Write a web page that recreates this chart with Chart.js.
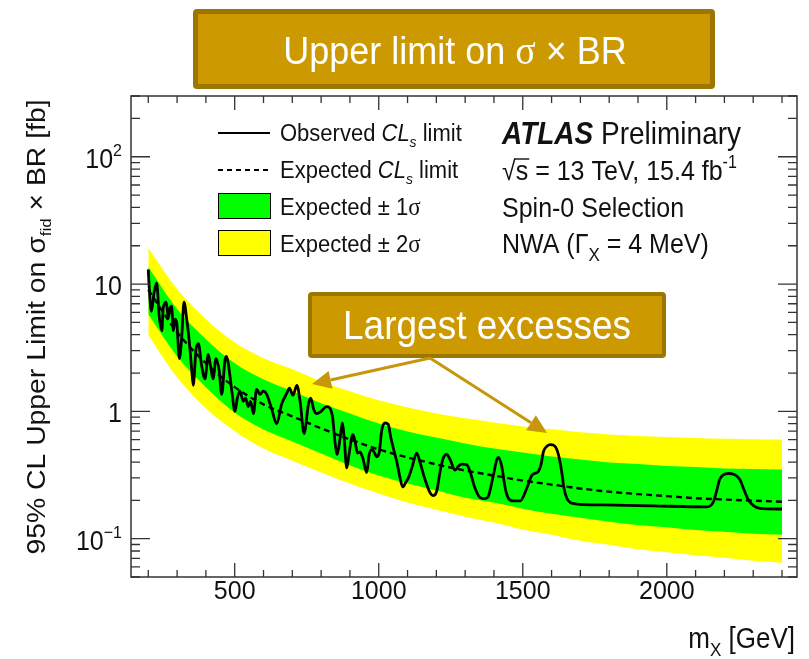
<!DOCTYPE html>
<html>
<head>
<meta charset="utf-8">
<title>Upper limit on σ × BR</title>
<script src="https://cdn.jsdelivr.net/npm/chart.js@4.4.1/dist/chart.umd.min.js"></script>
<style>
  html, body { margin: 0; padding: 0; background: #fff; }
  canvas { display: block; }
</style>
</head>
<body>
<canvas id="limitChart" width="809" height="659"></canvas>
<script>
// Observed CLs limit: m_X [GeV] and limit [fb]
const obsMass = [200, 203, 211, 220, 229, 238, 247, 252, 262, 270,
  275, 281, 287, 293, 299, 308, 316, 324, 333, 342,
  351, 356, 366, 374, 385, 397, 408, 417, 425, 435,
  446, 455, 466, 472, 481, 490, 501, 509, 518, 530,
  538, 547, 555, 565, 576, 588, 599, 611, 628, 646,
  663, 681, 690, 702, 716, 727, 741, 756, 764, 774,
  785, 800, 819, 829, 840, 848, 856, 866, 874, 880,
  889, 898, 910, 918, 926, 935, 946, 958, 967, 976,
  984, 993, 1002, 1010, 1022, 1033, 1042, 1051, 1063, 1074,
  1083, 1095, 1103, 1115, 1132, 1143, 1161, 1178, 1190, 1201,
  1213, 1224, 1236, 1248, 1265, 1276, 1288, 1306, 1317, 1334,
  1352, 1369, 1380, 1396, 1410, 1415, 1427, 1439, 1450, 1467,
  1491, 1514, 1531, 1543, 1554, 1563, 1572, 1583, 1597, 1612,
  1624, 1635, 1643, 1653, 1664, 1682, 1780, 1953, 2139, 2162,
  2174, 2183, 2196, 2214, 2237, 2254, 2268, 2283, 2301, 2324,
  2400];
const obsLimit = [13.0, 9.6, 6.1, 8.5, 10.2, 5.6, 4.3, 6.5, 7.2, 5.4,
  6.5, 6.7, 4.3, 5.3, 4.9, 2.6, 3.8, 7.2, 5.4, 3.6,
  2.1, 1.6, 3.1, 3.4, 2.3, 1.8, 2.8, 2.2, 1.8, 2.6,
  2.1, 1.36, 2.5, 2.7, 2.1, 1.44, 1.0, 1.27, 1.44, 1.2,
  1.27, 1.09, 1.2, 0.96, 1.49, 1.36, 1.44, 1.36, 1.05, 0.80,
  1.14, 1.39, 1.52, 1.34, 1.60, 1.20, 0.67, 1.14, 1.27, 1.04,
  0.96, 1.0, 1.09, 1.07, 0.89, 0.58, 0.46, 0.62, 0.81, 0.62,
  0.36, 0.48, 0.66, 0.58, 0.47, 0.48, 0.42, 0.33, 0.46, 0.50,
  0.48, 0.44, 0.48, 0.70, 0.81, 0.79, 0.62, 0.51, 0.40, 0.30,
  0.255, 0.28, 0.30, 0.36, 0.47, 0.40, 0.29, 0.23, 0.218, 0.235,
  0.337, 0.43, 0.46, 0.417, 0.345, 0.37, 0.385, 0.38, 0.337, 0.25,
  0.21, 0.206, 0.214, 0.30, 0.42, 0.434, 0.37, 0.25, 0.208, 0.198,
  0.198, 0.249, 0.313, 0.327, 0.337, 0.38, 0.484, 0.53, 0.547, 0.53,
  0.456, 0.337, 0.249, 0.208, 0.193, 0.188, 0.184, 0.181, 0.178, 0.195,
  0.242, 0.29, 0.317, 0.325, 0.317, 0.29, 0.242, 0.202, 0.182, 0.173,
  0.171];

// Expected limit and its +-1 sigma / +-2 sigma bands
const bandMass = [200, 300, 400, 500, 600, 700, 800, 900, 1000, 1100, 1200, 1300,
  1400, 1500, 1600, 1700, 1800, 1900, 2000, 2100, 2200, 2300, 2400];
const expLimit = [9.0, 4.19, 2.39, 1.55, 1.135, 0.913, 0.735, 0.602, 0.502, 0.435, 0.383, 0.343,
  0.313, 0.286, 0.266, 0.248, 0.234, 0.224, 0.216, 0.208, 0.203, 0.199, 0.195];
const plus1 = [13.6, 6.36, 3.69, 2.39, 1.79, 1.44, 1.16, 0.964, 0.804, 0.696, 0.624, 0.560,
  0.511, 0.476, 0.442, 0.419, 0.397, 0.386, 0.372, 0.366, 0.356, 0.353, 0.349];
const minus1 = [5.8, 2.71, 1.55, 0.98, 0.72, 0.58, 0.467, 0.376, 0.313, 0.271, 0.239, 0.210,
  0.192, 0.172, 0.157, 0.146, 0.136, 0.128, 0.123, 0.117, 0.1135, 0.1095, 0.1075];
const plus2 = [19.2, 9.14, 5.3, 3.49, 2.61, 2.14, 1.72, 1.44, 1.22, 1.075, 0.964, 0.881,
  0.819, 0.762, 0.722, 0.684, 0.659, 0.641, 0.630, 0.618, 0.610, 0.605, 0.602];
const minus2 = [3.97, 1.85, 1.06, 0.70, 0.51, 0.41, 0.331, 0.271, 0.226, 0.192, 0.169, 0.149,
  0.134, 0.118, 0.1075, 0.0964, 0.0897, 0.0827, 0.0783, 0.0741, 0.0708, 0.067, 0.0647];

// Axis tick labels
const xTickLabels = [500, 1000, 1500, 2000];
const yTickLabels = [0.1, 1, 10, 100];

const FONT = '"Liberation Sans", Arial, Helvetica, sans-serif';
const SERIF = '"Liberation Serif", "Times New Roman", serif';
const GOLD = '#CC9900';
const GOLD_DARK = '#9C7600';

const toPoints = (xs, ys) => xs.map((x, i) => ({ x: x, y: ys[i] }));

function setFont(ctx, p) {
  ctx.font = [p.st || '', p.wt || '', p.s + 'px', p.f || FONT].join(' ');
}

// draw a run of text pieces (sub/superscripts via dy)
function drawRich(ctx, x, y, parts, align) {
  let total = 0;
  parts.forEach(p => { setFont(ctx, p); p.width = ctx.measureText(p.t).width; total += p.width; });
  let cx = align === 'right' ? x - total : align === 'center' ? x - total / 2 : x;
  parts.forEach(p => {
    setFont(ctx, p);
    ctx.fillText(p.t, cx, y + (p.dy || 0));
    p.x = cx;
    cx += p.width;
  });
  return total;
}

// same, stretched vertically about the baseline
function drawTall(ctx, x, y, parts, align, k) {
  ctx.save();
  ctx.translate(0, y);
  ctx.scale(1, k);
  drawRich(ctx, x, 0, parts, align);
  ctx.restore();
}

function goldBox(ctx, x, y, w, h, bw) {
  ctx.fillStyle = GOLD_DARK;
  ctx.beginPath();
  ctx.roundRect(x, y, w, h, 4);
  ctx.fill();
  ctx.fillStyle = GOLD;
  ctx.fillRect(x + bw, y + bw, w - 2 * bw, h - 2 * bw);
}

function arrow(ctx, x0, y0, x1, y1) {
  const a = Math.atan2(y1 - y0, x1 - x0), L = 19, W = 9;
  const bx = x1 - L * Math.cos(a), by = y1 - L * Math.sin(a);
  ctx.beginPath();
  ctx.moveTo(x0, y0);
  ctx.lineTo(bx, by);
  ctx.stroke();
  ctx.beginPath();
  ctx.moveTo(x1, y1);
  ctx.lineTo(bx + W * Math.sin(a), by - W * Math.cos(a));
  ctx.lineTo(bx - W * Math.sin(a), by + W * Math.cos(a));
  ctx.closePath();
  ctx.fill();
}

// frame, inward ticks, labels, legend and the slide annotations
const decor = {
  id: 'decor',
  afterDraw(chart) {
    const ctx = chart.ctx;
    const area = chart.chartArea;
    const xs = chart.scales.x, ys = chart.scales.y;
    ctx.save();

    // frame + ticks
    ctx.strokeStyle = '#333';
    ctx.lineWidth = 1.5;
    ctx.strokeRect(area.left, area.top, area.right - area.left, area.bottom - area.top);
    ctx.lineWidth = 1.3;
    ctx.beginPath();
    for (let m = 200; m <= 2400; m += 100) {
      const px = xs.getPixelForValue(m);
      const len = m % 500 === 0 ? 14 : 7;
      ctx.moveTo(px, area.bottom); ctx.lineTo(px, area.bottom - len);
      ctx.moveTo(px, area.top); ctx.lineTo(px, area.top + len);
    }
    for (let e = -2; e <= 2; e++) {
      for (let k = 1; k <= 9; k++) {
        const v = k * Math.pow(10, e);
        if (v < ys.min * 0.999 || v > ys.max * 1.001) continue;
        const py = ys.getPixelForValue(v);
        const len = k === 1 ? 19 : 9;
        ctx.moveTo(area.left, py); ctx.lineTo(area.left + len, py);
        ctx.moveTo(area.right, py); ctx.lineTo(area.right - len, py);
      }
    }
    ctx.stroke();

    ctx.fillStyle = '#111';
    ctx.textBaseline = 'alphabetic';

    // y tick labels
    yTickLabels.forEach(v => {
      const py = ys.getPixelForValue(v) + 11;
      const e = Math.round(Math.log10(v));
      let parts;
      if (e === 0) parts = [{ t: '1', s: 25 }];
      else if (e === 1) parts = [{ t: '10', s: 25 }];
      else parts = [{ t: '10', s: 25 }, { t: e < 0 ? '\u2212' + (-e) : String(e), s: 16, dy: -11 }];
      drawTall(ctx, 122, py, parts, 'right', 1.08);
    });

    // axis titles
    drawTall(ctx, 795, 648, [
      { t: 'm', s: 26 }, { t: 'X', s: 17, dy: 7 }, { t: ' [GeV]', s: 26 }
    ], 'right', 1.1);

    ctx.save();
    ctx.translate(45, 327);
    ctx.rotate(-Math.PI / 2);
    const yParts = [
      { t: '95% CL Upper Limit on ', s: 25 }, { t: '\u03c3', s: 25 },
      { t: 'fid', s: 15, dy: 6 }, { t: ' \u00d7 BR [fb]', s: 25 }
    ];
    let w = 0;
    yParts.forEach(p => { setFont(ctx, p); w += ctx.measureText(p.t).width; });
    ctx.scale(455 / w, 1);
    drawRich(ctx, 0, 0, yParts, 'center');
    ctx.restore();

    // legend
    ctx.strokeStyle = '#000';
    ctx.lineWidth = 2.2;
    ctx.beginPath(); ctx.moveTo(218, 133); ctx.lineTo(270, 133); ctx.stroke();
    ctx.setLineDash([5, 4]);
    ctx.beginPath(); ctx.moveTo(218, 170); ctx.lineTo(270, 170); ctx.stroke();
    ctx.setLineDash([]);
    ctx.lineWidth = 1;
    ctx.fillStyle = '#00ff00';
    ctx.fillRect(218, 193, 52, 25);
    ctx.strokeRect(218.5, 193.5, 52, 25);
    ctx.fillStyle = '#ffff00';
    ctx.fillRect(218, 230, 52, 25);
    ctx.strokeRect(218.5, 230.5, 52, 25);

    ctx.fillStyle = '#111';
    const k = 1.1;
    drawTall(ctx, 280, 141, [
      { t: 'Observed ', s: 22 }, { t: 'CL', s: 22, st: 'italic' },
      { t: 's', s: 14, st: 'italic', dy: 5 }, { t: ' limit', s: 22 }
    ], 'left', k);
    drawTall(ctx, 280, 178, [
      { t: 'Expected ', s: 22 }, { t: 'CL', s: 22, st: 'italic' },
      { t: 's', s: 14, st: 'italic', dy: 5 }, { t: ' limit', s: 22 }
    ], 'left', k);
    drawTall(ctx, 280, 215, [{ t: 'Expected \u00b1 1', s: 22 }, { t: '\u03c3', s: 23, f: SERIF }], 'left', k);
    drawTall(ctx, 280, 252, [{ t: 'Expected \u00b1 2', s: 22 }, { t: '\u03c3', s: 23, f: SERIF }], 'left', k);

    // experiment labels
    drawTall(ctx, 502, 144, [
      { t: 'ATLAS', s: 28, st: 'italic', wt: 'bold' }, { t: ' Preliminary', s: 28 }
    ], 'left', k);
    const sq = [{ t: '\u221a', s: 25 }, { t: 's', s: 25 }, { t: ' = 13 TeV, 15.4 fb', s: 25 },
      { t: '-1', s: 16, dy: -11 }];
    drawTall(ctx, 502, 180, sq, 'left', k);
    ctx.lineWidth = 1.4;
    ctx.strokeStyle = '#111';
    ctx.beginPath();
    ctx.moveTo(sq[1].x - 1, 180 - 21);
    ctx.lineTo(sq[1].x + sq[1].width + 1, 180 - 21);
    ctx.stroke();
    drawTall(ctx, 502, 217, [{ t: 'Spin-0 Selection', s: 25 }], 'left', k);
    drawTall(ctx, 502, 253, [
      { t: 'NWA (', s: 25 }, { t: '\u0393', s: 25 }, { t: 'X', s: 17, dy: 7 },
      { t: ' = 4 MeV)', s: 25 }
    ], 'left', k);

    // slide annotations
    goldBox(ctx, 193, 9, 522, 80, 5);
    ctx.fillStyle = '#fff';
    drawTall(ctx, 455, 64, [
      { t: 'Upper limit on ', s: 36 }, { t: '\u03c3', s: 38, f: SERIF }, { t: ' \u00d7 BR', s: 36 }
    ], 'center', 1.1);

    goldBox(ctx, 308, 292, 358, 66, 4);
    ctx.fillStyle = '#fff';
    drawTall(ctx, 487, 339, [{ t: 'Largest excesses', s: 37 }], 'center', 1.1);

    ctx.strokeStyle = '#C8960A';
    ctx.fillStyle = '#C8960A';
    ctx.lineWidth = 3;
    arrow(ctx, 430, 358, 312, 384);
    arrow(ctx, 430, 358, 547, 433);

    ctx.restore();
  }
};

const ctx = document.getElementById('limitChart').getContext('2d');
const limitChart = new Chart(ctx, {
  type: 'line',
  data: {
    datasets: [
      {
        label: 'Observed CLs limit',
        data: toPoints(obsMass, obsLimit),
        borderColor: '#000',
        borderWidth: 2.8,
        cubicInterpolationMode: 'monotone',
        fill: false,
        order: 0
      },
      {
        label: 'Expected CLs limit',
        data: toPoints(bandMass, expLimit),
        borderColor: '#000',
        borderWidth: 2.4,
        borderDash: [6, 4],
        cubicInterpolationMode: 'monotone',
        fill: false,
        order: 1
      },
      {
        label: 'Expected +1 sigma',
        data: toPoints(bandMass, plus1),
        borderWidth: 0,
        borderColor: 'rgba(0,0,0,0)',
        backgroundColor: '#00ff00',
        cubicInterpolationMode: 'monotone',
        fill: '+1',
        order: 2
      },
      {
        label: 'Expected -1 sigma',
        data: toPoints(bandMass, minus1),
        borderWidth: 0,
        borderColor: 'rgba(0,0,0,0)',
        cubicInterpolationMode: 'monotone',
        fill: false,
        order: 3
      },
      {
        label: 'Expected +2 sigma',
        data: toPoints(bandMass, plus2),
        borderWidth: 0,
        borderColor: 'rgba(0,0,0,0)',
        backgroundColor: '#ffff00',
        cubicInterpolationMode: 'monotone',
        fill: '+1',
        order: 4
      },
      {
        label: 'Expected -2 sigma',
        data: toPoints(bandMass, minus2),
        borderWidth: 0,
        borderColor: 'rgba(0,0,0,0)',
        cubicInterpolationMode: 'monotone',
        fill: false,
        order: 5
      }
    ]
  },
  options: {
    responsive: false,
    animation: false,
    devicePixelRatio: 1,
    layout: { padding: { top: 96, right: 12, left: 0, bottom: 0 } },
    elements: { point: { radius: 0, hoverRadius: 0 } },
    plugins: {
      legend: { display: false },
      tooltip: { enabled: false },
      filler: { propagate: false }
    },
    scales: {
      x: {
        type: 'linear',
        min: 140,
        max: 2452,
        grid: { display: false, drawTicks: false },
        border: { display: false },
        afterBuildTicks: (scale) => { scale.ticks = xTickLabels.map(v => ({ value: v })); },
        afterFit: (scale) => { scale.height = 82; },
        ticks: {
          font: { family: FONT, size: 25 },
          color: '#111',
          padding: 0,
          maxRotation: 0,
          autoSkip: false,
          callback: (value) => String(value)
        }
      },
      y: {
        type: 'logarithmic',
        min: 0.05,
        max: 300,
        grid: { display: false, drawTicks: false },
        border: { display: false },
        ticks: { display: false },
        afterFit: (scale) => { scale.width = 131; }
      }
    }
  },
  plugins: [decor]
});
</script>
</body>
</html>
